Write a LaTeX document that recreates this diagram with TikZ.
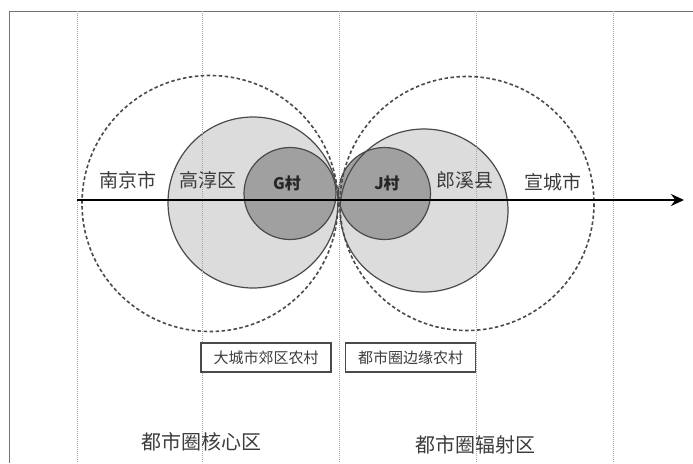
\documentclass[tikz,border=0pt]{standalone}
\usepackage{fontspec}
\usetikzlibrary{arrows.meta}
\newfontfamily\cjk{Noto Sans CJK SC}
\definecolor{lightfill}{HTML}{DCDCDC}
\definecolor{darkfill}{HTML}{A0A0A0}
\definecolor{edge}{HTML}{4A4A4A}
\definecolor{txt}{HTML}{3C3C3C}
\tikzset{
  area/.style={draw=edge, line width=1.2pt},
  reach/.style={draw=edge, line width=1.6pt, dash pattern=on 3.5pt off 2.5pt},
  zone/.style={draw=black!35, line width=0.8pt, dash pattern=on 1pt off 1pt},
  place/.style={text=txt, font=\cjk\fontsize{19}{19}\selectfont},
  village/.style={text=black!85, font=\cjk\bfseries\fontsize{16}{16}\selectfont},
  tag/.style={draw=edge, line width=1.1pt, minimum width=130pt, minimum height=29pt, inner sep=0pt, text=txt, font=\cjk\fontsize{15}{15}\selectfont},
  region/.style={text=txt, font=\cjk\fontsize{20}{20}\selectfont},
  axis/.style={line width=2.8pt, -{Stealth[length=13pt,width=12pt]}}
}
\begin{document}
\begin{tikzpicture}[x=1pt,y=-1pt]
\useasboundingbox (0,0) rectangle (693,463);
% frame
\draw[draw=black!55, line width=1pt] (9.5,463) -- (9.5,11) -- (693,11);
% light areas
\fill[lightfill] (253,202.5) ellipse [x radius=85, y radius=85.5];
\fill[lightfill] (424,210.5) ellipse [x radius=84, y radius=81.5];
% dark villages
\fill[darkfill] (290,193.5) circle [radius=46];
\fill[darkfill] (384.5,193.5) circle [radius=46];
% outlines
\draw[area] (253,202.5) ellipse [x radius=85, y radius=85.5];
\draw[area] (424,210.5) ellipse [x radius=84, y radius=81.5];
\draw[area] (290,193.5) circle [radius=46];
\draw[area] (384.5,193.5) circle [radius=46];
% zone dividers
\foreach \xx in {77,202,339,476,613}
  \draw[zone] (\xx,11) -- (\xx,463);
% dashed reach circles
\draw[reach] (210,203.5) circle [radius=128];
\draw[reach] (467,203.5) circle [radius=127];
% axis
\coordinate (axstart) at (77,200);
\coordinate (axend) at (684,200);
\draw[axis] (axstart) -- (axend);
% labels
\node[place] (nj) at (128,180) {南京市};
\node[place] (gc) at (208,180) {高淳区};
\node[village] (g) at (287,183) {G村};
\node[village] (j) at (387,183) {J村};
\node[place] (lx) at (465,180) {郎溪县};
\node[place] (xc) at (553,182) {宣城市};
\node[tag, fill=white] (t1) at (266,357.5) {大城市郊区农村};
\node[tag, fill=white] (t2) at (410.5,357.5) {都市圈边缘农村};
\node[region] (core) at (201,442) {都市圈核心区};
\node[region] (rad) at (475,445) {都市圈辐射区};
\end{tikzpicture}
\end{document}
